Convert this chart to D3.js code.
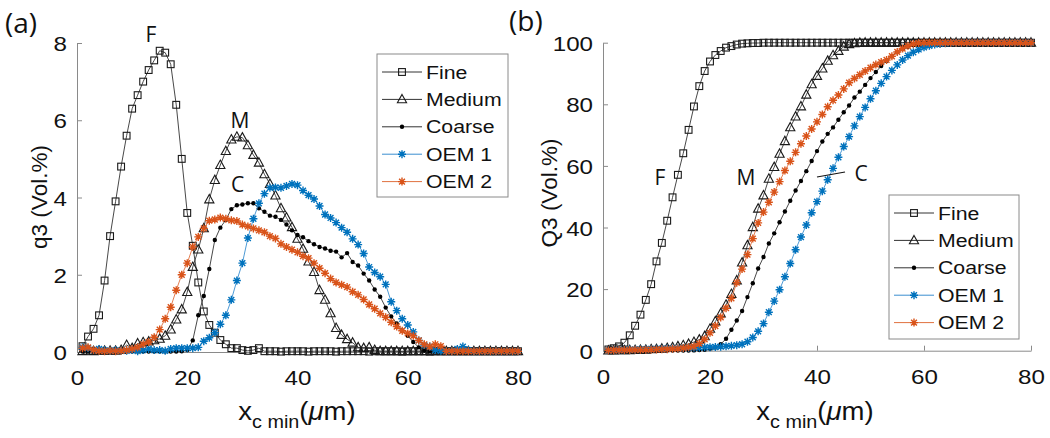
<!DOCTYPE html>
<html><head><meta charset="utf-8">
<script src="https://cdn.jsdelivr.net/npm/d3@7"></script>
<style>html,body{margin:0;padding:0;background:#fff;}svg{display:block;}</style>
</head><body>
<script>
// ---------- DATA ----------
const xs = [1,2,3,4,5,6,7,8,9,10,11,12,13,14,15,16,17,18,19,20,
  21,22,23,24,25,26,27,28,29,30,31,32,33,34,35,36,37,38,39,40,
  41,42,43,44,45,46,47,48,49,50,51,52,53,54,55,56,57,58,59,60,
  61,62,63,64,65,66,67,68,69,70,71,72,73,74,75,76,77,78,79,80];

const seriesNames = ["Fine","Medium","Coarse","OEM 1","OEM 2"];

// (a) q3 density, Vol.%
const qFine = [0.15,0.4,0.6,0.95,1.85,3.0,3.9,4.8,5.6,6.3,
  6.65,7.0,7.3,7.55,7.8,7.75,7.45,6.4,5.0,3.6,
  2.75,1.8,1.05,0.7,0.5,0.31,0.2,0.1,0.1,0.05,
  0.03,0.05,0.1,0.02,0.02,0.02,0.01,0.02,0.02,0.02,
  0.02,0.01,0.02,0.02,0.02,0.02,0.01,0.02,0.02,0.02,
  0.02,0.02,0.01,0.02,0.02,0.02,0.02,0.02,0.01,0.02,
  0.02,0.02,0.02,0.01,0.02,0.02,0.02,0.02,0.02,0.02,
  0.02,0.02,0.02,0.02,0.02,0.02,0.02,0.02,0.02,0.02];
const qMedium = [0.02,0.03,0.02,0.03,0.03,0.03,0.03,0.05,0.18,0.1,
  0.22,0.25,0.27,0.3,0.34,0.42,0.58,0.84,1.1,1.55,
  2.2,2.65,3.2,3.95,4.45,4.84,5.2,5.5,5.57,5.55,
  5.35,5.1,4.9,4.6,4.35,4.05,3.72,3.48,3.23,2.93,
  2.67,2.34,2.07,1.6,1.35,1.0,0.62,0.44,0.33,0.24,
  0.12,0.1,0.12,0.05,0.02,0.02,0.02,0.02,0.02,0.02,
  0.02,0.02,0.02,0.02,0.02,0.02,0.02,0.02,0.02,0.02,
  0.02,0.02,0.02,0.02,0.02,0.02,0.02,0.02,0.02,0.02];
const qCoarse = [0.01,0.01,0.01,0.01,0.01,0.01,0.01,0.01,0.01,0.01,
  0.01,0.01,0.01,0.01,0.01,0.01,0.01,0.01,0.02,0.05,
  0.3,0.95,1.45,2.15,2.9,3.22,3.42,3.7,3.8,3.82,
  3.85,3.85,3.72,3.63,3.53,3.5,3.42,3.3,3.15,3.03,
  2.97,2.87,2.79,2.72,2.68,2.62,2.6,2.45,2.56,2.33,
  2.24,2.03,1.85,1.62,1.43,1.15,0.92,0.74,0.56,0.42,
  0.26,0.12,0.03,0.01,0.01,0.01,0.01,0.01,0.01,0.01,
  0.01,0.01,0.01,0.01,0.01,0.01,0.01,0.01,0.01,0.01];
const qOEM1 = [0.12,0.1,0.05,0.08,0.05,0.03,0.05,0.03,0.03,0.05,
  0.02,0.05,0.08,0.05,0.05,0.03,0.08,0.1,0.1,0.1,
  0.1,0.12,0.28,0.37,0.5,0.72,0.95,1.35,1.85,2.3,
  2.95,3.45,3.85,4.1,4.25,4.26,4.25,4.3,4.35,4.32,
  4.18,4.06,3.96,3.78,3.56,3.47,3.35,3.22,3.1,2.93,
  2.78,2.55,2.2,2.06,1.95,1.75,1.3,1.07,0.86,0.7,
  0.52,0.3,0.18,0.14,0.05,0.03,0.02,0.03,0.08,0.14,
  0.05,0.02,0.02,0.02,0.02,0.02,0.02,0.02,0.02,0.02];
const qOEM2 = [0.1,0.12,0.05,0.03,0.02,0.03,0.02,0.03,0.05,0.08,
  0.12,0.2,0.26,0.38,0.58,0.86,1.16,1.6,2.0,2.3,
  2.72,2.98,3.2,3.4,3.43,3.48,3.45,3.41,3.39,3.3,
  3.25,3.2,3.15,3.1,3.0,2.94,2.8,2.72,2.65,2.58,
  2.48,2.43,2.3,2.17,2.04,1.9,1.8,1.74,1.68,1.56,
  1.48,1.36,1.23,1.12,1.0,0.9,0.77,0.66,0.55,0.48,
  0.42,0.3,0.2,0.14,0.2,0.15,0.02,0.02,0.02,0.02,
  0.02,0.02,0.02,0.02,0.02,0.02,0.02,0.02,0.02,0.02];

// (b) Q3 cumulative, Vol.%
const QFine = [0.4,0.8,1.4,2.6,5.0,8.1,11.7,16.5,21.6,29.0,
  35.0,42.2,49.8,57.1,64.1,71.7,79.3,85.9,90.8,93.9,
  96.0,97.3,98.4,98.9,99.4,99.7,99.8,99.9,99.9,100,
  100,100,100,100,100,100,100,100,100,100,
  100,100,100,100,100,100,100,100,100,100,
  100,100,100,100,100,100,100,100,100,100,
  100,100,100,100,100,100,100,100,100,100,
  100,100,100,100,100,100,100,100,100,100];
const QMedium = [0.02,0.05,0.1,0.12,0.15,0.2,0.25,0.3,0.45,0.5,
  0.65,0.85,1.1,1.4,1.75,2.2,2.8,3.6,4.7,7.1,
  9.5,12.1,14.9,18.4,22.8,28.6,34.2,40.1,46.1,50.4,
  55.8,59.6,63.9,68.0,72.5,76.0,79.3,83.1,86.5,89.2,
  91.6,94.1,95.9,97.3,98.7,99.5,99.8,99.95,100,100,
  100,100,100,100,100,100,100,100,100,100,
  100,100,100,100,100,100,100,100,100,100,
  100,100,100,100,100,100,100,100,100,100];
const QCoarse = [0.02,0.02,0.02,0.02,0.02,0.03,0.03,0.03,0.03,0.04,
  0.04,0.05,0.05,0.06,0.07,0.08,0.1,0.2,0.3,0.6,
  1.0,2.1,3.9,6.8,9.8,12.9,17.4,21.9,26.7,30.4,
  34.8,38.1,41.7,45.2,48.7,52.0,55.1,58.3,61.6,64.8,
  67.9,70.4,72.5,75.0,77.4,79.6,82.2,84.1,86.3,88.5,
  90.5,92.4,94.1,95.6,96.9,97.9,98.7,99.3,99.7,99.9,
  100,100,100,100,100,100,100,100,100,100,
  100,100,100,100,100,100,100,100,100,100];
const QOEM1 = [0.1,0.2,0.25,0.3,0.35,0.4,0.45,0.5,0.55,0.6,
  0.65,0.7,0.75,0.8,0.85,0.9,0.95,1.0,1.1,1.15,
  1.2,1.3,1.45,1.6,1.8,2.1,2.9,4.3,6.3,8.8,
  12.5,16.1,19.8,24.0,28.3,32.8,36.9,40.8,44.8,48.4,
  51.8,55.5,59.2,62.8,66.3,69.5,73.0,76.0,79.0,81.8,
  84.4,86.8,89.0,91.0,92.8,94.4,95.8,96.9,97.8,98.5,
  99.0,99.4,99.6,99.8,99.9,100,100,100,100,100,
  100,100,100,100,100,100,100,100,100,100];
const QOEM2 = [0.1,0.15,0.2,0.22,0.25,0.27,0.3,0.32,0.35,0.4,
  0.45,0.5,0.6,0.7,0.85,1.1,1.4,2.3,3.7,5.8,
  8.0,10.8,13.8,17.0,22.1,26.5,31.2,36.4,41.5,45.0,
  48.2,51.5,54.9,58.5,61.5,64.4,67.2,69.7,72.0,74.3,
  76.7,79.2,81.3,83.0,85.0,87.0,88.4,89.6,90.8,91.9,
  92.9,93.7,94.4,95.6,97.0,98.1,99.0,99.6,99.9,100,
  100,100,100,100,100,100,100,100,100,100,
  100,100,100,100,100,100,100,100,100,100];

const xTicks = [0,20,40,60,80];
const yTicksA = [0,2,4,6,8];
const yTicksB = [0,20,40,60,80,100];

// ---------- STYLE ----------
const seriesStyle = [
  {marker:"square",   color:"#1a1a1a", line:"#333"},
  {marker:"triangle", color:"#1a1a1a", line:"#333"},
  {marker:"dot",      color:"#000",    line:"#333"},
  {marker:"asterisk", color:"#0072BD", line:"#3a8fd0"},
  {marker:"asterisk", color:"#D95319", line:"#e0713f"}
];
const AX = "#8a8a8a";
const TICKFONT = "'Liberation Sans', Arial, sans-serif";
const ANNFONT = "'Open Sans', 'Noto Sans', sans-serif";

const svg = d3.select("body").append("svg").attr("width",1050).attr("height",438);
svg.append("rect").attr("width",1050).attr("height",438).attr("fill","#fff");

function drawMarker(g, type, color) {
  if (type === "square") {
    g.append("rect").attr("x",-3.4).attr("y",-3.4).attr("width",6.8).attr("height",6.8)
      .attr("fill","none").attr("stroke",color).attr("stroke-width",1.1);
  } else if (type === "triangle") {
    g.append("path").attr("d","M0,-5L4.6,3.4L-4.6,3.4Z")
      .attr("fill","none").attr("stroke",color).attr("stroke-width",1.1);
  } else if (type === "dot") {
    g.append("circle").attr("r",2.2).attr("fill",color);
  } else {
    g.append("path").attr("d","M-4,0H4M0,-4V4M-2.9,-2.9L2.9,2.9M-2.9,2.9L2.9,-2.9")
      .attr("stroke",color).attr("stroke-width",1.4).attr("fill","none");
  }
}

function panel(cfg) {
  const x = d3.scaleLinear().domain([0,80]).range(cfg.xr);
  const y = d3.scaleLinear().domain([0,cfg.ymax]).range(cfg.yr);
  const g = svg.append("g");

  const xa = g.append("g").attr("transform",`translate(0,${cfg.yr[0]})`)
    .call(d3.axisBottom(x).tickValues(xTicks).tickSizeInner(-5).tickSizeOuter(0));
  const ya = g.append("g").attr("transform",`translate(${cfg.xr[0]},0)`)
    .call(d3.axisLeft(y).tickValues(cfg.yticks).tickSizeInner(-5).tickSizeOuter(0));
  [xa,ya].forEach(a => {
    a.select(".domain").attr("stroke",AX);
    a.selectAll(".tick line").attr("stroke",AX);
    a.selectAll("text").attr("fill","#111").attr("font-family",TICKFONT).attr("font-size",21);
  });
  xa.selectAll("text").attr("y",33).attr("dy",null).attr("transform","scale(1.15,1)");
  ya.selectAll("text").attr("x",-8.7).attr("dy","0.36em").attr("transform","scale(1.15,1)");

  cfg.data.forEach((vals,i) => {
    const st = seriesStyle[i];
    const pts = xs.map((xv,j) => [xv, vals[j]]);
    g.append("path").datum(pts)
      .attr("d", d3.line().x(d=>x(d[0])).y(d=>y(d[1])))
      .attr("fill","none").attr("stroke",st.line).attr("stroke-width",0.9);
    g.append("g").selectAll("g").data(pts).join("g")
      .attr("transform",d=>`translate(${x(d[0])},${y(d[1])})`)
      .each(function(){ drawMarker(d3.select(this), st.marker, st.color); });
  });

  const L = cfg.legend;
  g.append("rect").attr("x",L.x).attr("y",L.y).attr("width",L.w).attr("height",L.h)
    .attr("fill","#fff").attr("stroke",AX).attr("stroke-width",1);
  seriesNames.forEach((nm,i) => {
    const st = seriesStyle[i];
    const cy = L.y + 18 + i*27.4;
    const lg = g.append("g");
    lg.append("line").attr("x1",L.x+5).attr("x2",L.x+45).attr("y1",cy).attr("y2",cy)
      .attr("stroke",st.line).attr("stroke-width",1);
    const mg = lg.append("g").attr("transform",`translate(${L.x+25},${cy})`);
    drawMarker(mg, st.marker, st.color);
    lg.append("text").attr("transform",`translate(${L.x+49},${cy+6.6}) scale(1.15,1)`)
      .attr("font-family",TICKFONT).attr("font-size",18.5).attr("fill","#111").text(nm);
  });

  const xl = g.append("text").attr("transform",`translate(${cfg.xlab[0]},${cfg.xlab[1]}) scale(1.1,1)`)
    .attr("text-anchor","middle").attr("font-family",TICKFONT).attr("fill","#111");
  xl.append("tspan").attr("font-size",25).text("x");
  xl.append("tspan").attr("font-size",18).attr("dy",8).text("c min");
  xl.append("tspan").attr("font-size",25).attr("dy",-8).text("(");
  xl.append("tspan").attr("font-size",25).attr("font-style","italic").text("μ");
  xl.append("tspan").attr("font-size",25).text("m)");

  g.append("text").attr("transform",`translate(${cfg.ylab[0]},${cfg.ylab[1]}) rotate(-90)`)
    .attr("text-anchor","middle").attr("font-family",TICKFONT).attr("font-size",22.5)
    .attr("fill","#111").text(cfg.ylabText);

  g.append("text").attr("x",cfg.tag[0]).attr("y",cfg.tag[1]).attr("font-family",ANNFONT)
    .attr("font-size",28).attr("fill","#111").text(cfg.tagText);
  cfg.ann.forEach(a => {
    g.append("text").attr("x",a[1]).attr("y",a[2]).attr("text-anchor","middle")
      .attr("font-family",ANNFONT).attr("font-size",21).attr("fill","#111").text(a[0]);
  });
  return g;
}

panel({xr:[77,518], yr:[352,43], ymax:8, yticks:yTicksA,
  data:[qFine,qMedium,qCoarse,qOEM1,qOEM2],
  legend:{x:377,y:54,w:131,h:143},
  xlab:[297,420], ylab:[47,197], ylabText:"q3 (Vol.%)",
  tag:[5,33], tagText:"(a)",
  ann:[["F",151,42],["M",240,128],["C",237.5,191.5]]});

const gb = panel({xr:[603,1031], yr:[350.7,42.7], ymax:100, yticks:yTicksB,
  data:[QFine,QMedium,QCoarse,QOEM1,QOEM2],
  legend:{x:889,y:195,w:130,h:144},
  xlab:[815,420], ylab:[557,193], ylabText:"Q3 (Vol.%)",
  tag:[509,31], tagText:"(b)",
  ann:[["F",660,185],["M",746,185],["C",861,181]]});
gb.append("line").attr("x1",817).attr("y1",177).attr("x2",845).attr("y2",172)
  .attr("stroke","#111").attr("stroke-width",1.2);
</script>
</body></html>
